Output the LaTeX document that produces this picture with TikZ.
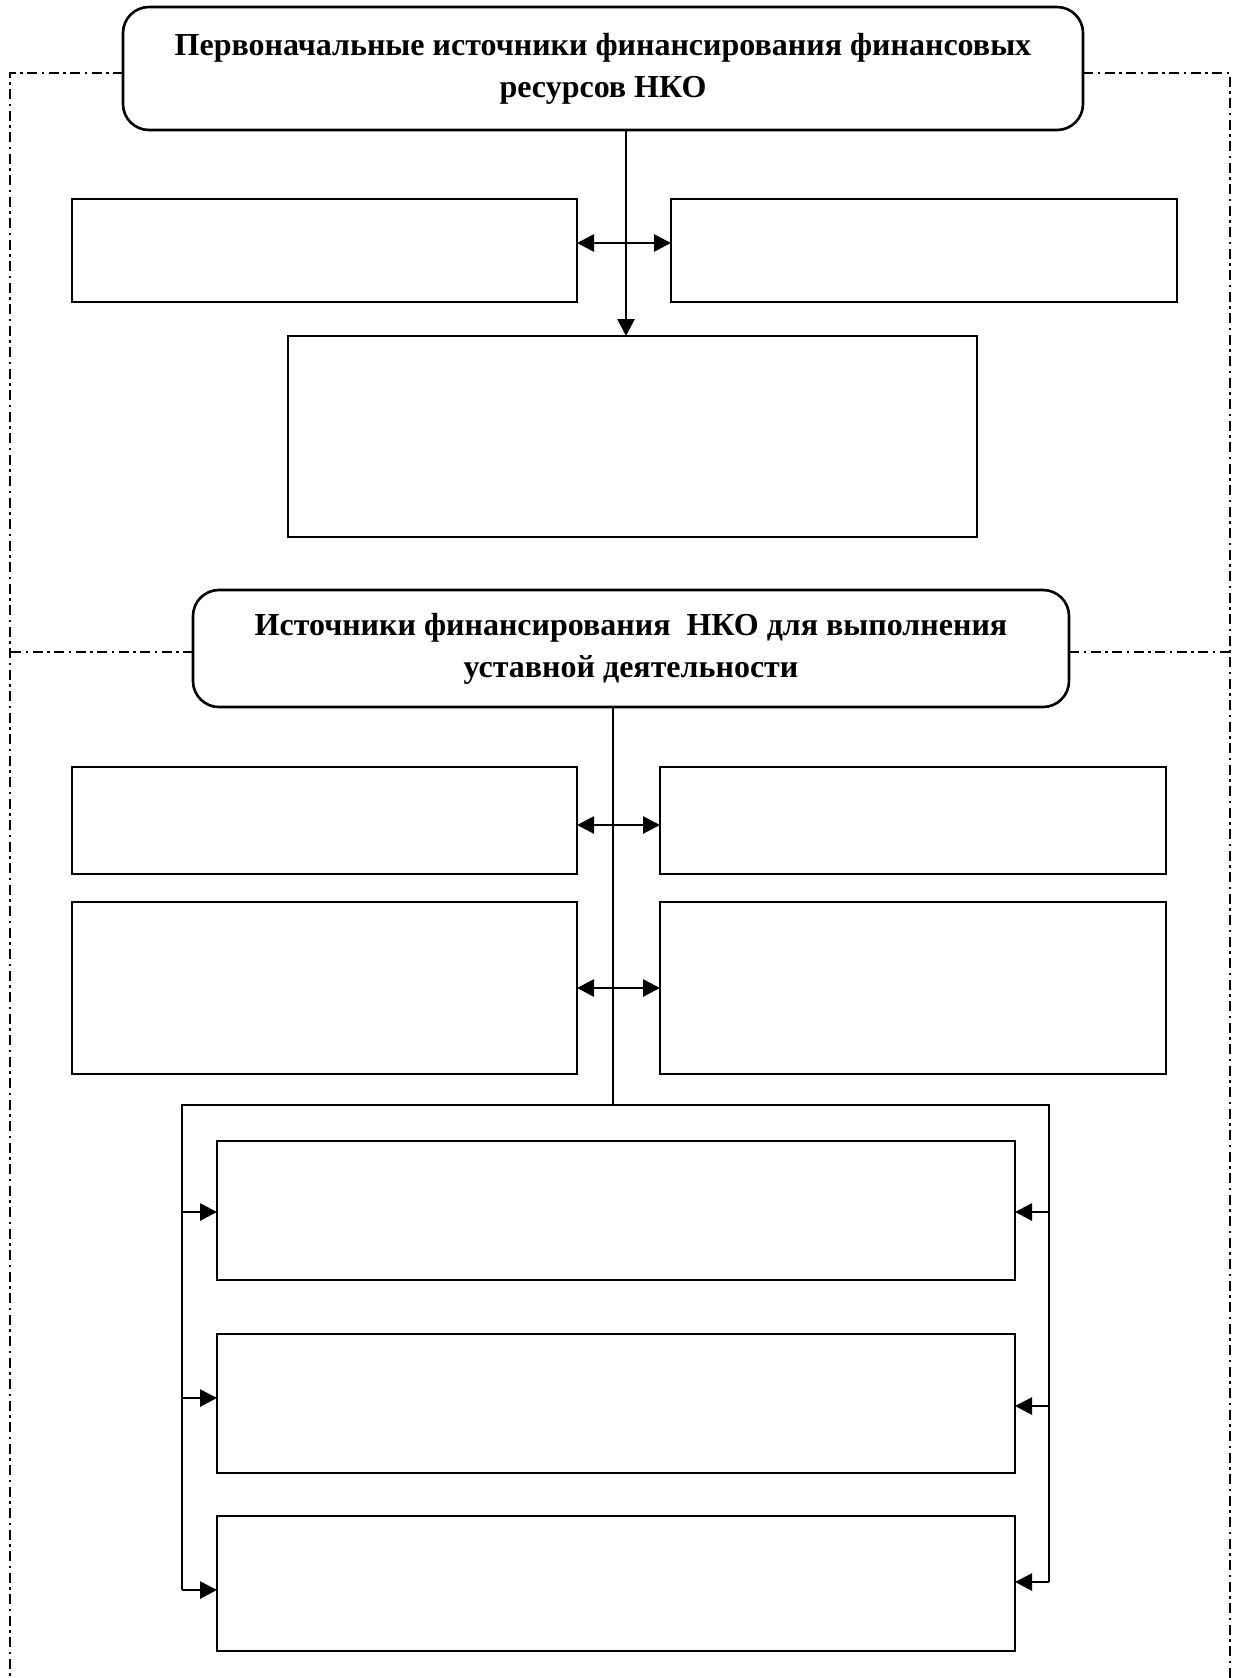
\documentclass[tikz,border=0pt]{standalone}
\usepackage{fontspec}
\setmainfont{Liberation Serif}
\usetikzlibrary{arrows.meta}
\begin{document}
\begin{tikzpicture}[x=1pt,y=-1pt,
  box/.style={draw, line width=2.2pt, inner sep=0pt, outer sep=0pt, anchor=north west},
  rbox/.style={draw, line width=2.6pt, rounded corners=26pt, inner sep=0pt, outer sep=0pt, anchor=north west, align=center, font=\fontsize{32}{42}\selectfont\bfseries},
  conn/.style={line width=2.8pt},
  tipend/.style={-{Triangle[length=17pt,width=17pt]}},
  tipboth/.style={{Triangle[length=17pt,width=17pt]}-{Triangle[length=17pt,width=17pt]}},
  framed/.style={line width=2.2pt, dash pattern=on 10pt off 4.5pt on 2.5pt off 4.5pt}]
\useasboundingbox (0,0) rectangle (1236,1678);

% frame coordinates
\coordinate (fTL) at (10,73);
\coordinate (fTR) at (1230,73);
\coordinate (fML) at (10,652);
\coordinate (fMR) at (1230,652);
\coordinate (fBL) at (10,1678);
\coordinate (fBR) at (1230,1678);

% main boxes
\node[rbox, minimum width=960pt, minimum height=123pt] (top) at (123,7)
  {Первоначальные источники финансирования финансовых\\ресурсов НКО};
\node[box, minimum width=505pt, minimum height=103pt] (l1) at (72,199) {};
\node[box, minimum width=506pt, minimum height=103pt] (r1) at (671,199) {};
\node[box, minimum width=689pt, minimum height=201pt] (big) at (288,336) {};

\node[rbox, minimum width=876pt, minimum height=117pt] (top2) at (193,590)
  {Источники финансирования \ НКО для выполнения\\уставной деятельности};
\node[box, minimum width=505pt, minimum height=107pt] (l2) at (72,767) {};
\node[box, minimum width=506pt, minimum height=107pt] (r2) at (660,767) {};
\node[box, minimum width=505pt, minimum height=172pt] (l3) at (72,902) {};
\node[box, minimum width=506pt, minimum height=172pt] (r3) at (660,902) {};

\node[box, minimum width=798pt, minimum height=139pt] (b1) at (217,1141) {};
\node[box, minimum width=798pt, minimum height=139pt] (b2) at (217,1334) {};
\node[box, minimum width=798pt, minimum height=135pt] (b3) at (217,1516) {};

% frame lines
\draw[framed] (top.west |- fTL) -- (fTL) -- (fBL);
\draw[framed] (top.east |- fTR) -- (fTR) -- (fBR);
\draw[framed] (top2.west |- fML) -- (fML);
\draw[framed] (top2.east |- fMR) -- (fMR);

% top section connectors
\coordinate (va) at (626,130);
\coordinate (ya) at (0,243);
\draw[conn, tipend] (va) -- (big.north -| va);
\draw[conn, tipboth] (l1.east |- ya) -- (r1.west |- ya);

% second section connectors
\coordinate (vb) at (613,707);
\coordinate (yb) at (0,825);
\coordinate (yc) at (0,988);
\coordinate (bl) at (182,1105);
\coordinate (br) at (1049,1105);
\draw[conn] (vb) -- (vb |- bl);
\draw[conn, tipboth] (l2.east |- yb) -- (r2.west |- yb);
\draw[conn, tipboth] (l3.east |- yc) -- (r3.west |- yc);

% bracket
\coordinate (yl1) at (0,1212);
\coordinate (yl2) at (0,1398);
\coordinate (yl3) at (0,1590);
\coordinate (yr1) at (0,1212);
\coordinate (yr2) at (0,1406);
\coordinate (yr3) at (0,1582);
\draw[conn] (bl |- yl3) -- (bl) -- (br) -- (br |- yr3);
\draw[conn, tipend] (bl |- yl1) -- (b1.west |- yl1);
\draw[conn, tipend] (bl |- yl2) -- (b2.west |- yl2);
\draw[conn, tipend] (bl |- yl3) -- (b3.west |- yl3);
\draw[conn, tipend] (br |- yr1) -- (b1.east |- yr1);
\draw[conn, tipend] (br |- yr2) -- (b2.east |- yr2);
\draw[conn, tipend] (br |- yr3) -- (b3.east |- yr3);
\end{tikzpicture}
\end{document}
